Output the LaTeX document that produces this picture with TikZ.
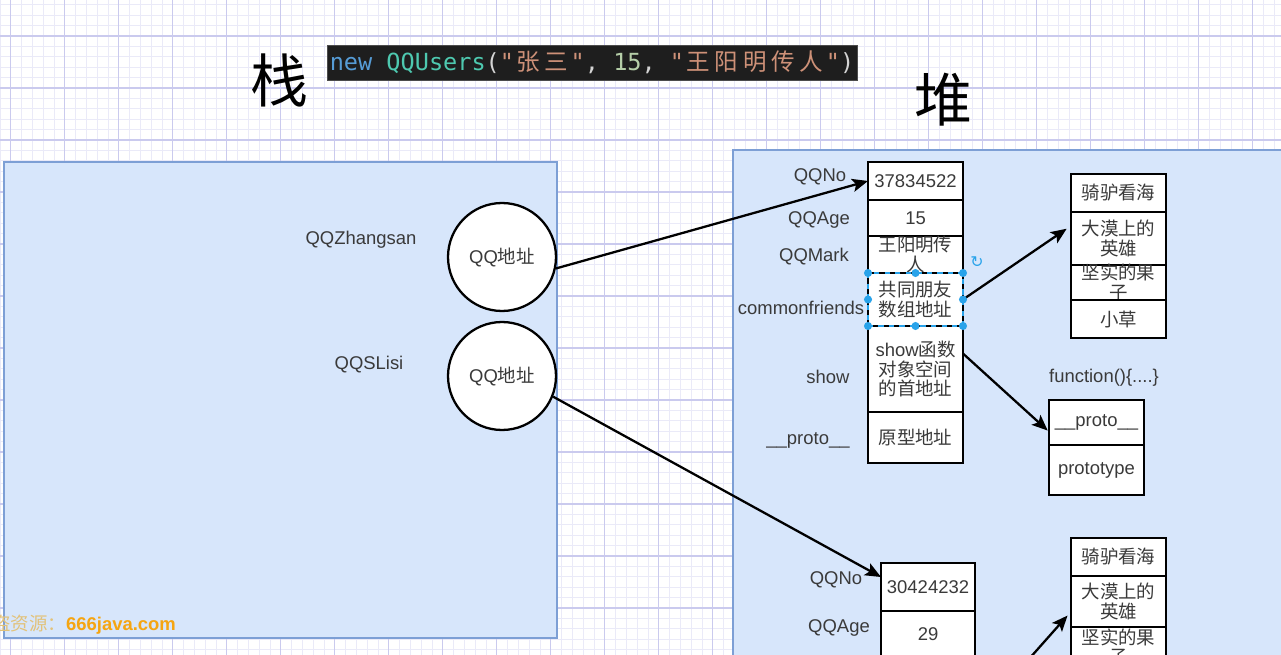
\documentclass[tikz,border=0pt]{standalone}
\usepackage{fontspec}
\usetikzlibrary{arrows.meta}
\setmainfont{Liberation Sans}
\setmonofont{DejaVu Sans Mono}
\newfontfamily\cjk{Noto Sans CJK SC}
\newfontfamily\symbolfont{DejaVu Sans}
\definecolor{gridmajor}{HTML}{CACAEE}
\definecolor{gridminor}{HTML}{EAEAF8}
\definecolor{panelfill}{HTML}{D7E6FB}
\definecolor{paneldraw}{HTML}{7D9FD5}
\definecolor{labelgrey}{HTML}{3A3A3A}
\definecolor{handleblue}{HTML}{29A3EA}
\definecolor{codebg}{HTML}{1E1E1E}
\definecolor{kwblue}{HTML}{569CD6}
\definecolor{typeteal}{HTML}{4EC9B0}
\definecolor{punct}{HTML}{D4D4D4}
\definecolor{strorange}{HTML}{CE9178}
\definecolor{numgreen}{HTML}{B5CEA8}
\definecolor{wmorange}{HTML}{F5A512}
\definecolor{wmgold}{HTML}{E2C27A}
\newcommand\codecjk[1]{\makebox[1.204em]{\cjk #1}}
\tikzset{
 cell/.style={draw, line width=1.3pt, fill=white, inner sep=0pt, outer sep=0pt,
   minimum width=1.9cm, align=center, text=labelgrey, font=\fontsize{10.5}{11}\selectfont},
 celltext/.style={inner sep=0pt, align=center, text=labelgrey, font=\fontsize{10.5}{11}\selectfont},
 addr/.style={circle, draw, line width=1.3pt, fill=white, minimum size=2.16cm, inner sep=0pt,
   text=labelgrey, font=\fontsize{10.5}{12}\selectfont},
 fieldlabel/.style={inner sep=0pt, text=labelgrey, font=\fontsize{10.5}{12}\selectfont},
 ptr/.style={line width=1.3pt, -{Stealth[length=9pt, width=7.5pt, inset=2pt]}},
 panel/.style={draw=paneldraw, fill=panelfill, line width=1pt},
 title/.style={inner sep=0pt, font=\cjk\fontsize{33}{33}\selectfont},
 codebox/.style={fill=codebg, draw=black!70, minimum width=10.6cm, minimum height=0.7cm, inner sep=0pt,
   font=\ttfamily\fontsize{13.4}{15}\selectfont},
 handle/.style={fill=handleblue}
}
\begin{document}
\begin{tikzpicture}[x=0.02cm, y=-0.02cm]
 \useasboundingbox (0,0) rectangle (1281,655);
 \clip (0,0) rectangle (1281,655);
 \fill[white] (0,0) rectangle (1281,655);
 \foreach \i in {-1,...,119} \draw[gridminor, line width=0.4pt] ({10.7+10.8*\i},0) -- ++(0,655);
 \foreach \j in {-4,...,60} \draw[gridminor, line width=0.4pt] (0,{36+10.4*\j}) -- ++(1281,0);
 \foreach \i in {0,...,24} \draw[gridmajor, line width=0.6pt] ({10.7+54*\i},0) -- ++(0,655);
 \foreach \j in {-1,...,12} \draw[gridmajor, line width=0.6pt] (0,{36+52*\j}) -- ++(1281,0);

 \draw[panel] (4,162) rectangle (557,638);
 \draw[panel] (733,150) rectangle (1300,680);

 \node[title] (stack) at (279,80) {栈};
 \node[title] (heap) at (943,100) {堆};
 \node[codebox] (code) at (592,62.5) {\textcolor{kwblue}{new} \textcolor{typeteal}{QQUsers}\textcolor{punct}{(}\textcolor{strorange}{"\codecjk{张}\codecjk{三}"}\textcolor{punct}{,} \textcolor{numgreen}{15}\textcolor{punct}{,} \textcolor{strorange}{"\codecjk{王}\codecjk{阳}\codecjk{明}\codecjk{传}\codecjk{人}"}\textcolor{punct}{)}};

 % stack
 \node[fieldlabel] (zs) at (361,240) {QQZhangsan};
 \node[fieldlabel] (ls) at (369,365) {QQSLisi};
 \node[addr] (circ1) at (502,257) {QQ{\cjk 地址}};
 \node[addr] (circ2) at (502,376) {QQ{\cjk 地址}};

 % heap, first object
 \node[cell, minimum height=.76cm] (no1) at (915.5,181) {37834522};
 \node[cell, minimum height=.72cm] (age1) at (915.5,218) {15};
 \node[cell, minimum height=.74cm] (mark1) at (915.5,254.5) {};
 \node[celltext] (mark1t) at (mark1) {\cjk 王阳明传\\\cjk 人};
 \node[cell, minimum height=1.06cm] (friends1) at (915.5,299.5) {\cjk 共同朋友\\\cjk 数组地址};
 \node[cell, minimum height=1.72cm] (show1) at (915.5,369) {show{\cjk 函数}\\\cjk 对象空间\\\cjk 的首地址};
 \node[cell, minimum height=1.02cm] (proto1) at (915.5,437.5) {\cjk 原型地址};
 \node[fieldlabel] (l1) at (820,177) {QQNo};
 \node[fieldlabel] (l2) at (819,220) {QQAge};
 \node[fieldlabel] (l3) at (814,257) {QQMark};
 \node[fieldlabel] (l4) at (801,308) {commonfriends};
 \node[fieldlabel] (l5) at (828,377) {show};
 \node[fieldlabel] (l6) at (808,440) {\_\_proto\_\_};

 % friends array
 \node[cell, minimum height=.76cm] (a1) at (1118.5,193) {\cjk 骑驴看海};
 \node[cell, minimum height=1.06cm] (a2) at (1118.5,238.5) {\cjk 大漠上的\\\cjk 英雄};
 \node[cell, minimum height=.70cm] (a3) at (1118.5,282.5) {};
 \node[celltext] (a3t) at (a3) {\cjk 坚实的果\\\cjk 子};
 \node[cell, minimum height=.76cm] (a4) at (1118.5,319) {\cjk 小草};

 % function object
 \node[fieldlabel] (fnlbl) at (1104,378) {function()\{....\}};
 \node[cell, minimum height=.90cm] (fp) at (1096.5,422.5) {\_\_proto\_\_};
 \node[cell, minimum height=1.0cm] (fpt) at (1096.5,470) {prototype};

 % second object
 \node[cell, minimum width=1.88cm, minimum height=.96cm] (no2) at (928,587) {30424232};
 \node[cell, minimum width=1.88cm, minimum height=.92cm] (age2) at (928,634) {29};
 \node[fieldlabel] (l7) at (836,580) {QQNo};
 \node[fieldlabel] (l8) at (839,628) {QQAge};
 \node[cell, minimum height=.76cm] (b1) at (1118.5,557) {\cjk 骑驴看海};
 \node[cell, minimum height=1.02cm] (b2) at (1118.5,601.5) {\cjk 大漠上的\\\cjk 英雄};
 \node[cell, minimum height=.86cm] (b3) at (1118.5,648.5) {};
 \node[celltext] (b3t) at (1118.5,647) {\cjk 坚实的果\\\cjk 子};
 \coordinate (offb) at (1021,668);

 % pointers
 \draw[ptr] (circ1.-12) -- (no1.west);
 \draw[ptr] (circ2.-22) -- (no2.168);
 \draw[ptr, shorten >=3pt] (friends1.east) -- (a2.165);
 \draw[ptr, shorten >=1pt] (show1.18) -- (fp.191);
 \draw[ptr, shorten >=3pt] (offb) -- (b2.192);

 % selection
 \draw[handleblue, dashed, line width=0.6pt] (friends1.north west) rectangle (friends1.south east);
 \foreach \a in {north west,north,north east,east,south east,south,south west,west}
   \fill[handle] (friends1.\a) circle (2.3pt);
 \node[inner sep=0pt, text=handleblue, font=\symbolfont\fontsize{9}{9}\selectfont] (rot) at (977,262) {↻};

 \node[anchor=west, inner sep=0pt, font=\fontsize{10.5}{12}\selectfont] (wm) at (-8,625)
   {\textcolor{wmgold}{\cjk 盗资源：}\textcolor{wmorange}{\bfseries 666java.com}};
\end{tikzpicture}
\end{document}
